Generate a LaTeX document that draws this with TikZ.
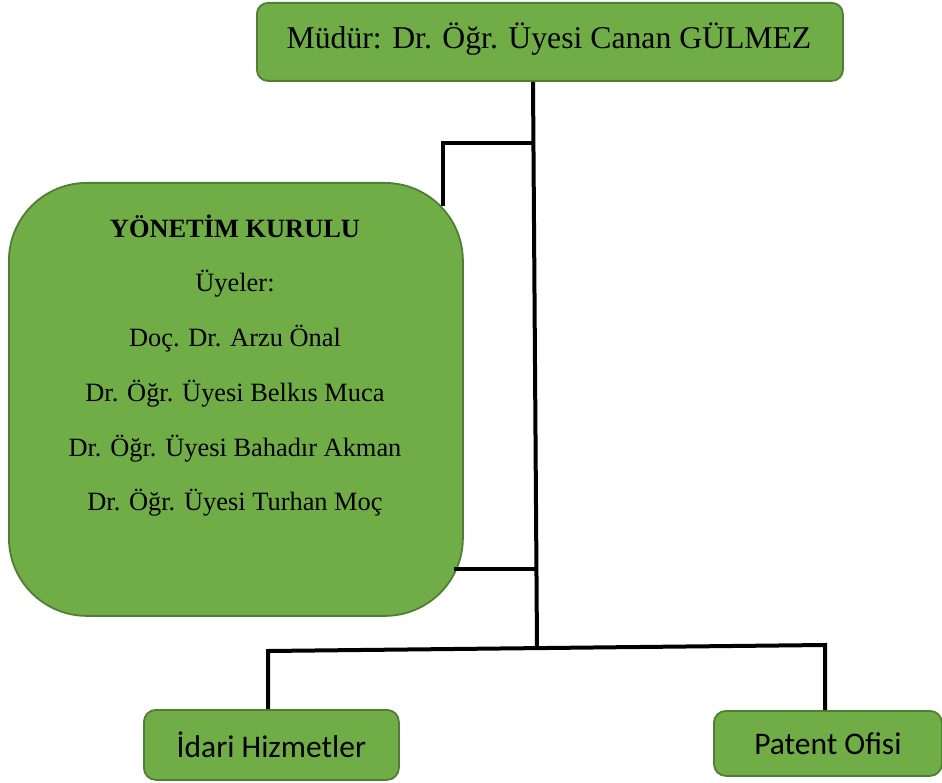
\documentclass[tikz,border=0pt]{standalone}
\usepackage{fontspec}
\setmainfont{Liberation Serif}
\newfontfamily\calibri{Carlito}
\definecolor{gfill}{HTML}{70AD47}
\definecolor{gborder}{HTML}{507E32}
\begin{document}
\begin{tikzpicture}[x=1pt,y=-1pt,
  gbox/.style={draw=gborder, fill=gfill, line width=1.8pt, rounded corners=#1, inner sep=0pt},
  conn/.style={line width=4pt, black},
  btext/.style={anchor=base, inner sep=0pt, font=\fontsize{26.4}{30}\selectfont}]
\useasboundingbox (0,0) rectangle (942,783);
% boxes
\node[gbox=11pt, minimum width=586pt, minimum height=78pt, anchor=north west] (top) at (256,2) {};
\node[anchor=base, inner sep=0pt, font=\fontsize{31.7}{36}\selectfont] (toptext) at (549,49) {Müdür: Dr. Öğr. Üyesi Canan GÜLMEZ};
\node[gbox=78pt, minimum width=454pt, minimum height=433pt, anchor=north west] (board) at (8,182) {};
\node[btext, font=\bfseries\fontsize{26.4}{30}\selectfont] (b1) at (235,238) {YÖNETİM KURULU};
\node[btext] (b2) at (235,292) {Üyeler:};
\node[btext] (b3) at (235,347) {Doç. Dr. Arzu Önal};
\node[btext] (b4) at (235,401) {Dr. Öğr. Üyesi Belkıs Muca};
\node[btext] (b5) at (235,456) {Dr. Öğr. Üyesi Bahadır Akman};
\node[btext] (b6) at (235,510) {Dr. Öğr. Üyesi Turhan Moç};
\node[gbox=12pt, minimum width=255pt, minimum height=70pt, anchor=north west,
      font=\calibri\fontsize{31.5}{36}\selectfont] (idari) at (143,709) {İdari Hizmetler};
\node[gbox=12pt, minimum width=228pt, minimum height=65pt, anchor=north west,
      font=\calibri\fontsize{31.5}{36}\selectfont] (patent) at (713,710) {Patent Ofisi};
% junction coordinates
\coordinate (ja) at (533,143);
\coordinate (jb) at (537,569);
\coordinate (jc) at (537,648);
\coordinate (ka) at (443,143);
\coordinate (kb) at (443,206);
\coordinate (kc) at (454,569);
\coordinate (la) at (268,651);
\coordinate (lb) at (825,645);
% connectors
\draw[conn] (top.south -| ja) -- (jc);
\draw[conn] (ja) -- (ka) -- (kb);
\draw[conn] (jb) -- (kc);
\draw[conn] (idari.north -| la) -- (la) -- (lb) -- (patent.north -| lb);
\end{tikzpicture}
\end{document}
